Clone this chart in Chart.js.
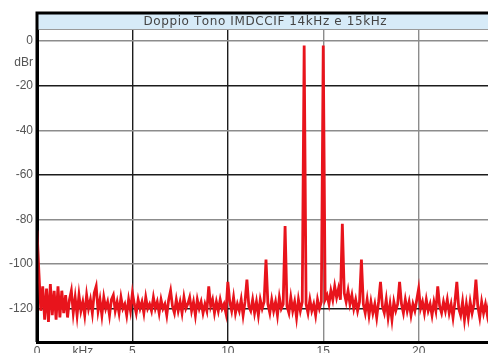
<!DOCTYPE html>
<html>
<head>
<meta charset="utf-8">
<script src="https://cdn.jsdelivr.net/npm/chart.js@4/dist/chart.umd.min.js"></script>
<style>
  html, body { margin: 0; padding: 0; background: #fff; }
  #wrap { width: 488px; height: 353px; overflow: hidden; position: relative; }
  canvas { position: absolute; left: 0; top: 0; }
</style>
</head>
<body>
<div id="wrap"><canvas id="chart" width="510" height="366"></canvas></div>
<script>
// --- DATA (dBr, one value every 0.1 kHz) ---
const chartTitle = "Doppio Tono IMDCCIF 14kHz e 15kHz";
const stepKHz = 0.1;

// 0.0 .. 5.9 kHz
const level0to6 = [
  -85, -104, -121, -110, -125, -111, -126, -109, -123, -112,
  -125, -110, -124, -112, -122, -114, -124, -116, -112, -122,
  -115, -123, -114, -121, -117, -123, -114, -120, -116, -122,
  -113, -110, -121, -116, -123, -115, -120, -117, -123, -116,
  -114, -121, -117, -122, -115, -120, -118, -123, -116, -121,
  -113, -118, -122, -116, -120, -117, -122, -115, -120, -118
];
// 6.0 .. 11.9 kHz
const level6to12 = [
  -121, -115, -120, -117, -122, -116, -120, -118, -123, -116,
  -112, -119, -122, -116, -121, -117, -122, -115, -120, -118,
  -115, -121, -117, -123, -116, -120, -117, -122, -118, -121,
  -110, -119, -116, -122, -117, -121, -116, -120, -118, -122,
  -108, -117, -121, -115, -122, -118, -121, -116, -123, -117,
  -107, -119, -121, -116, -122, -117, -123, -116, -120, -117
];
// 12.0 .. 17.9 kHz
const level12to18 = [
  -98, -118, -122, -116, -121, -117, -123, -115, -120, -118,
  -83, -119, -122, -115, -121, -117, -124, -116, -121, -117,
  -2, -118, -122, -116, -121, -118, -123, -116, -120, -117,
  -2, -116, -114, -118, -112, -116, -110, -115, -111, -116,
  -82, -113, -117, -112, -118, -114, -120, -116, -121, -117,
  -98, -118, -122, -116, -123, -117, -122, -118, -124, -117
];
// 18.0 .. 24.0 kHz
const level18to24 = [
  -108, -119, -122, -116, -124, -118, -125, -117, -121, -118,
  -108, -118, -122, -116, -121, -117, -123, -118, -121, -116,
  -111, -120, -117, -122, -116, -121, -118, -123, -117, -121,
  -110, -119, -122, -117, -121, -116, -122, -118, -124, -117,
  -108, -120, -123, -117, -125, -118, -124, -117, -122, -118,
  -107, -119, -124, -117, -122, -118, -123, -117, -121, -118,
  -120
];

const xTicks = [0, 2.4, 5, 10, 15, 20, 24];
const yTicks = [0, -9.5, -20, -40, -60, -80, -100, -120];
const darkX = [5, 10];
const darkY = [-20, -60, -120];

const levels = [].concat(level0to6, level6to12, level12to18, level18to24);
const points = levels.map((v, i) => ({ x: Math.round(i * stepKHz * 10) / 10, y: v }));

// --- title band + top border ---
const frame = {
  id: 'frame',
  afterDraw(chart) {
    const ctx = chart.ctx;
    const a = chart.chartArea;
    ctx.save();
    ctx.fillStyle = '#d7ebf8';
    ctx.fillRect(a.left, 14, a.right - a.left, a.top - 14);
    ctx.strokeStyle = '#9a9a9a';
    ctx.lineWidth = 1;
    ctx.beginPath();
    ctx.moveTo(a.left, a.top - 0.5);
    ctx.lineTo(a.right, a.top - 0.5);
    ctx.stroke();
    ctx.strokeStyle = '#000';
    ctx.lineWidth = 3;
    ctx.beginPath();
    ctx.moveTo(a.left - 1.5, 13);
    ctx.lineTo(a.right, 13);
    ctx.moveTo(a.left, 13);
    ctx.lineTo(a.left, a.bottom);
    ctx.stroke();
    // title, spread out a little like the original
    ctx.fillStyle = '#444';
    ctx.font = '12px "DejaVu Sans"';
    ctx.textAlign = 'left';
    ctx.textBaseline = 'middle';
    const gap = 0.6;
    const full = ctx.measureText(chartTitle).width + gap * (chartTitle.length - 1);
    let x = 264 - full / 2;
    for (const ch of chartTitle) {
      ctx.fillText(ch, x, 22);
      x += ctx.measureText(ch).width + gap;
    }
    ctx.restore();
  }
};

function gridColor(value, dark, blank) {
  if (blank.includes(value)) return 'rgba(0,0,0,0)';
  return dark.includes(value) ? '#1c1c1c' : '#8c8c8c';
}

new Chart(document.getElementById('chart'), {
  type: 'line',
  data: {
    datasets: [{
      data: points,
      borderColor: '#e8141c',
      borderWidth: 2.8,
      pointRadius: 0,
      tension: 0,
      fill: false
    }]
  },
  options: {
    responsive: false,
    animation: false,
    devicePixelRatio: 1,
    layout: { padding: { top: 30, right: 15, left: 0, bottom: 0 } },
    plugins: { legend: { display: false }, tooltip: { enabled: false } },
    scales: {
      x: {
        type: 'linear',
        min: 0,
        max: 24,
        afterBuildTicks: s => { s.ticks = xTicks.map(v => ({ value: v })); },
        afterFit: s => { s.height = 24; },
        ticks: {
          autoSkip: false,
          maxRotation: 0,
          padding: 2,
          color: '#555',
          font: { family: 'Liberation Sans', size: 12 },
          callback: v => (v === 2.4 ? 'kHz' : String(v))
        },
        grid: {
          drawTicks: false,
          lineWidth: 1.4,
          color: c => gridColor(c.tick && c.tick.value, darkX, [0, 2.4, 24])
        },
        border: { color: '#000', width: 3 }
      },
      y: {
        min: -135,
        max: 5,
        afterBuildTicks: s => { s.ticks = yTicks.map(v => ({ value: v })); },
        afterFit: s => { s.width = 37; },
        ticks: {
          autoSkip: false,
          padding: 4,
          color: '#555',
          font: { family: 'Liberation Sans', size: 12 },
          callback: v => (v === -9.5 ? 'dBr' : String(v))
        },
        grid: {
          drawTicks: false,
          lineWidth: 1.4,
          color: c => gridColor(c.tick && c.tick.value, darkY, [-9.5])
        },
        border: { color: '#000', width: 3 }
      }
    }
  },
  plugins: [frame]
});
</script>
</body>
</html>
